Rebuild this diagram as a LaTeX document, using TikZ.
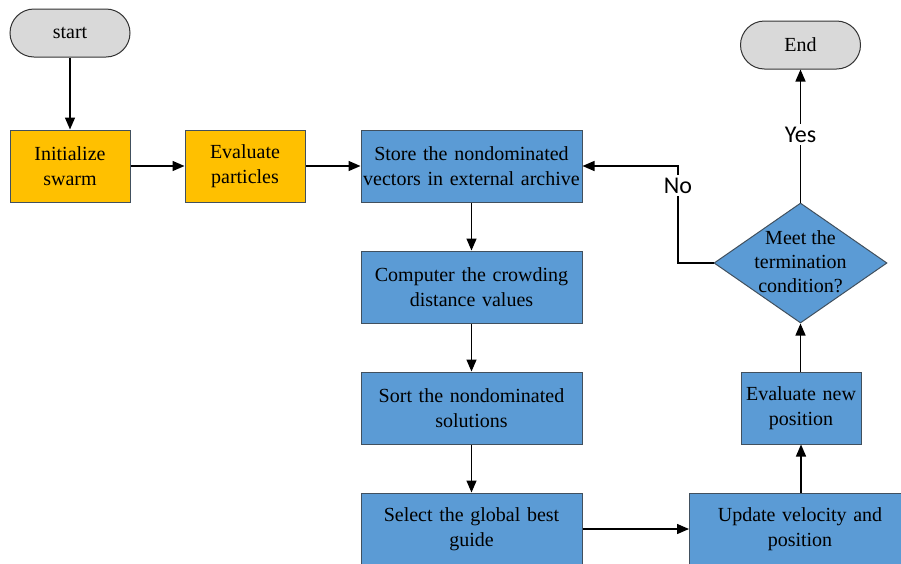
\documentclass[tikz,border=0pt]{standalone}
\usepackage{fontspec}
\setmainfont{Liberation Serif}
\newfontfamily\lblfont{Carlito}
\usetikzlibrary{shapes.geometric,arrows.meta}
\definecolor{orangefill}{HTML}{FFC000}
\definecolor{bluefill}{HTML}{5B9BD5}
\definecolor{grayfill}{HTML}{D9D9D9}
\definecolor{edgecol}{HTML}{41505E}
\tikzset{
  box/.style={draw=edgecol, line width=1pt, minimum height=72pt, align=center, inner sep=1pt, font=\fontsize{20}{25}\selectfont},
  orangebox/.style={box, fill=orangefill, minimum width=120pt, text width=118pt},
  bluebox/.style={box, fill=bluefill, minimum width=221pt, text width=219pt},
  smallblue/.style={box, fill=bluefill, minimum width=120pt, text width=118pt},
  term/.style={draw=black!80, line width=1pt, fill=grayfill, rounded corners=24pt, minimum width=120pt, minimum height=48pt, font=\fontsize{20}{25}\selectfont},
  decision/.style={diamond, draw=edgecol, line width=1pt, fill=bluefill, minimum width=173pt, minimum height=120pt, inner sep=0pt},
  dectext/.style={align=center, inner sep=0pt, font=\fontsize{20}{24}\selectfont},
  arr/.style={line width=1.4pt, -{Triangle[length=12pt,width=10pt]}},
  lbl/.style={font=\lblfont\fontsize{24}{26}\selectfont, fill=white, inner sep=3pt}
}
\begin{document}
\begin{tikzpicture}[x=1pt,y=-1pt]
\useasboundingbox (0,0) rectangle (901,563);
\begin{scope}
\clip (0,0) rectangle (901,563);
\node[term] (start) at (70,33) {start};
\node[orangebox] (init) at (70,166) {Initialize\\swarm};
\node[orangebox] (evalp) at (245,166) {Evaluate\\particles};
\node[bluebox] (store) at (471.5,166) {Store the nondominated\\vectors in external archive};
\node[bluebox] (crowd) at (471.5,287) {Computer the crowding\\distance values};
\node[bluebox] (sort) at (471.5,408) {Sort the nondominated\\solutions};
\node[bluebox] (select) at (471.5,529) {Select the global best\\guide};
\node[bluebox] (update) at (800,529) {Update velocity and\\position};
\node[smallblue] (evaln) at (801,408) {Evaluate new\\position};
\node[decision] (cond) at (800.5,263) {};
\node[dectext] (condtext) at (800.5,262) {Meet the\\termination\\condition?};
\node[term] (end) at (800.5,45) {End};
\coordinate (nocorner1) at (678,263);
\coordinate (nocorner2) at (678,166);
\end{scope}
\draw[arr] (start) -- (init);
\draw[arr] (init) -- (evalp);
\draw[arr] (evalp) -- (store);
\draw[arr] (store) -- (crowd);
\draw[arr] (crowd) -- (sort);
\draw[arr] (sort) -- (select);
\draw[arr] (select.east) -- (select.east -| update.west);
\draw[arr] (update.north -| evaln) -- (evaln.south);
\draw[arr] (evaln.north -| cond) -- (cond.south);
\draw[arr] (cond.north) -- node[lbl, pos=0.51] (yes) {Yes} (end.south);
\draw[arr] (cond.west) -- (nocorner1) -- node[lbl, pos=0.8] (no) {No} (nocorner2) -- (store.east);
\end{tikzpicture}
\end{document}
